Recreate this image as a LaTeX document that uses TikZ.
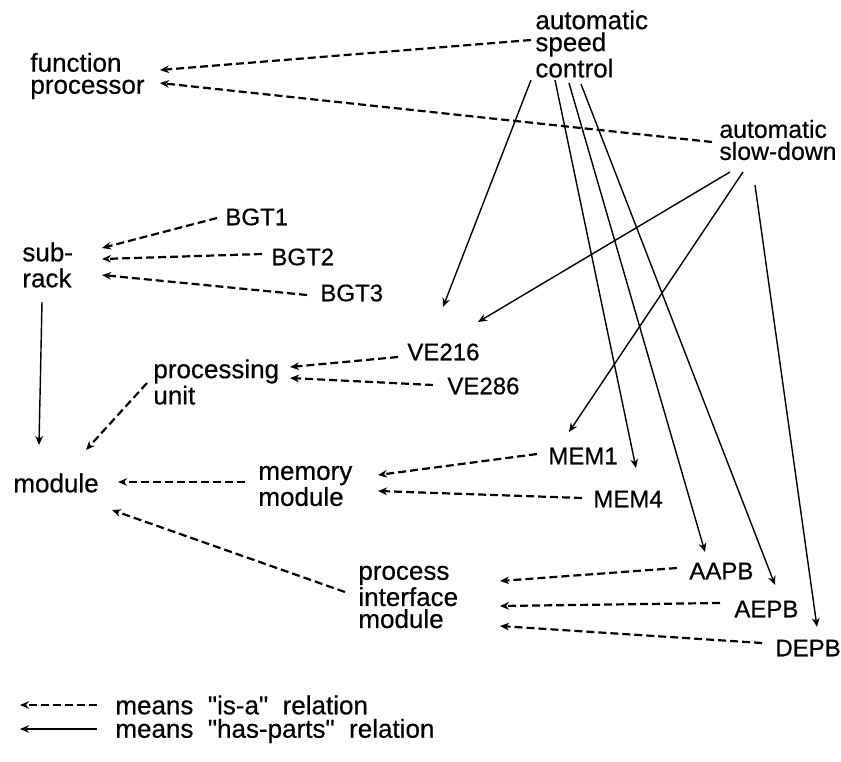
\documentclass[tikz,border=0pt]{standalone}
\usepackage{fontspec}
\setmainfont{Liberation Sans}[FakeBold=0.5]
\usetikzlibrary{arrows.meta}
\begin{document}
\begin{tikzpicture}[x=0.5pt,y=-0.5pt,
  lbl/.style={anchor=west, inner sep=0pt, align=left, font=\fontsize{13}{11}\selectfont},
  caps/.style={font=\fontsize{12}{11}\selectfont},
  wide/.style={font=\fontsize{13}{13}\selectfont},
  isa/.style={line width=1.1pt, dash pattern=on 4pt off 2pt, -{Stealth[length=4.5pt,width=3.8pt]}},
  hasp/.style={line width=0.7pt, -{Stealth[length=4.5pt,width=3.8pt]}}]
\useasboundingbox (0,0) rectangle (841,761);
% nodes
\node[lbl] (fp) at (30,76) {function\\processor};
\node[lbl] (asc) at (535,44) {automatic\\speed\\control};
\node[lbl,font=\fontsize{12.4}{11}\selectfont] (asd) at (719,140) {automatic\\slow-down};
\node[lbl,wide] (sr) at (22,265) {sub-\\rack};
\node[lbl,caps] (b1) at (225,217) {BGT1};
\node[lbl,caps] (b2) at (271,257) {BGT2};
\node[lbl,caps] (b3) at (320,293) {BGT3};
\node[lbl] (pu) at (153,382) {processing\\unit};
\node[lbl,caps] (v216) at (407,352) {VE216};
\node[lbl,caps] (v286) at (447,386) {VE286};
\node[lbl] (mod) at (13,483) {module};
\node[lbl,wide] (mm) at (258,486) {memory\\module};
\node[lbl,caps] (m1) at (548,456) {MEM1};
\node[lbl,caps] (m4) at (593,499) {MEM4};
\node[lbl] (pim) at (358,597) {process\\interface\\module};
\node[lbl,caps] (aapb) at (689,571) {AAPB};
\node[lbl,caps] (aepb) at (734,609) {AEPB};
\node[lbl,caps] (depb) at (775,648) {DEPB};
\node[lbl] (leg1) at (115,705) {means \ \textquotedbl is-a\textquotedbl\ \ relation};
\node[lbl] (leg2) at (115,731) {means \ \textquotedbl has-parts\textquotedbl\ \ relation};
% is-a relations
\draw[isa] ([shift={(-4,-4)}]asc.west) -- ([shift={(130,-6)}]fp.west);
\draw[isa] ([shift={(-7,2)}]asd.west) -- ([shift={(130,7)}]fp.west);
\draw[isa] ([shift={(-8,1)}]b1.west) -- ([shift={(80,-17)}]sr.west);
\draw[isa] ([shift={(-9,-3)}]b2.west) -- ([shift={(80,-6)}]sr.west);
\draw[isa] ([shift={(-13,2)}]b3.west) -- ([shift={(80,10)}]sr.west);
\draw[isa] ([shift={(-9,5)}]v216.west) -- ([shift={(137,-15)}]pu.west);
\draw[isa] ([shift={(-14,-1)}]v286.west) -- ([shift={(137,-4)}]pu.west);
\draw[isa] ([shift={(-6,1)}]pu.west) -- ([shift={(73,-33)}]mod.west);
\draw[isa] ([shift={(-13,-4)}]mm.west) -- ([shift={(105,-1)}]mod.west);
\draw[isa] ([shift={(-13,-5)}]pim.west) -- ([shift={(99,27)}]mod.west);
\draw[isa] ([shift={(-11,-2)}]m1.west) -- ([shift={(120,-11)}]mm.west);
\draw[isa] ([shift={(-11,-1)}]m4.west) -- ([shift={(120,5)}]mm.west);
\draw[isa] ([shift={(-12,-3)}]aapb.west) -- ([shift={(142,-16)}]pim.west);
\draw[isa] ([shift={(-14,-6)}]aepb.west) -- ([shift={(142,9)}]pim.west);
\draw[isa] ([shift={(-13,-5)}]depb.west) -- ([shift={(142,29)}]pim.west);
% has-parts relations
\draw[hasp] ([shift={(20,37)}]sr.west) -- ([shift={(26,-38)}]mod.west);
\draw[hasp] ([shift={(-4,36)}]asc.west) -- ([shift={(36,-45)}]v216.west);
\draw[hasp] ([shift={(20,36)}]asc.west) -- ([shift={(43,-31)}]m4.west);
\draw[hasp] ([shift={(34,39)}]asc.west) -- ([shift={(16,-19)}]aapb.west);
\draw[hasp] ([shift={(46,40)}]asc.west) -- ([shift={(41,-24)}]aepb.west);
\draw[hasp] ([shift={(11,32)}]asd.west) -- ([shift={(71,-30)}]v216.west);
\draw[hasp] ([shift={(24,32)}]asd.west) -- ([shift={(21,-24)}]m1.west);
\draw[hasp] ([shift={(36,45)}]asd.west) -- ([shift={(42,-21)}]depb.west);
% legend
\draw[isa] ([shift={(-18,0)}]leg1.west) -- ([shift={(-95,0)}]leg1.west);
\draw[hasp,line width=1pt] ([shift={(-18,-2)}]leg2.west) -- ([shift={(-95,-2)}]leg2.west);
\end{tikzpicture}
\end{document}
